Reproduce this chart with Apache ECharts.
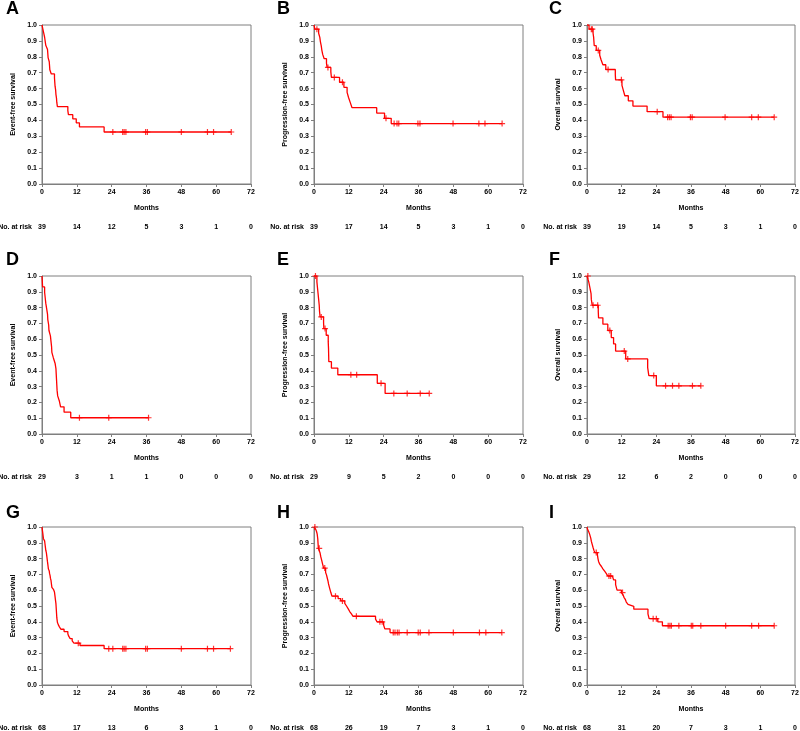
<!DOCTYPE html>
<html>
<head>
<meta charset="utf-8">
<script src="https://cdn.jsdelivr.net/npm/echarts@6/dist/echarts.min.js"></script>
<style>html,body{margin:0;padding:0;background:#fff;}#chart{width:800px;height:731px;}</style>
</head>
<body>
<div id="chart"></div>
<script>
// ---------- data ----------
const monthTicks = [0, 12, 24, 36, 48, 60, 72];
const panelLetters = ['A', 'B', 'C', 'D', 'E', 'F', 'G', 'H', 'I'];
const yTitles = ['Event-free survival', 'Progression-free survival', 'Overall survival',
                 'Event-free survival', 'Progression-free survival', 'Overall survival',
                 'Event-free survival', 'Progression-free survival', 'Overall survival'];
const riskLabel = 'No. at risk';

const aTimes = [0.3,0.6,0.9,1.1,1.3,1.9,2.0,2.1,2.5,2.6,2.7,3.2,4.3,4.4,4.5,4.7,4.8,5.0,5.1,5.3,8.9,9.1,10.6,11.8,12.9,21.4];
const aSurv  = [0.974,0.949,0.923,0.897,0.872,0.846,0.821,0.795,0.769,0.744,0.718,0.692,0.667,0.641,0.615,0.590,0.564,0.538,0.513,0.487,0.462,0.436,0.410,0.385,0.359,0.327];
const aCensor = [24.4,27.8,28.3,28.9,35.7,36.3,48.0,57.0,59.1,65.2];
const aRisk = [39,14,12,5,3,1,0];

const bTimes = [0.3,1.6,2.0,2.2,2.5,2.7,3.0,3.5,4.3,4.5,5.8,6.0,8.8,10.3,11.4,11.9,12.5,13.1,21.6,24.3,26.6];
const bSurv  = [0.974,0.948,0.922,0.896,0.869,0.842,0.815,0.788,0.760,0.733,0.705,0.670,0.640,0.608,0.576,0.544,0.512,0.480,0.446,0.413,0.380];
const bCensor = [1.0,4.8,7.0,9.8,24.8,27.6,28.6,29.2,35.8,36.5,47.9,56.8,58.9,64.8];
const bRisk = [39,17,14,5,3,1,0];

const cTimes = [0.7,2.1,2.3,2.4,2.5,3.2,4.4,4.9,5.5,6.5,9.8,9.9,12.1,12.6,13.1,14.3,15.9,20.8,26.3];
const cSurv  = [0.974,0.948,0.922,0.896,0.870,0.840,0.810,0.780,0.750,0.720,0.688,0.655,0.620,0.587,0.555,0.523,0.490,0.455,0.420];
const cCensor = [1.5,1.85,3.9,7.3,11.9,24.3,27.9,28.5,29.1,35.8,36.4,47.8,57.0,59.3,64.8];
const cRisk = [39,19,14,5,3,1,0];

const dTimes = [0.1,0.2,0.9,1.1,1.3,1.6,1.9,2.0,2.3,2.4,2.9,3.1,3.3,3.4,3.9,4.5,4.8,4.9,5.0,5.1,5.2,5.4,6.0,6.4,7.6,9.9];
const dSurv  = [0.966,0.931,0.897,0.862,0.828,0.793,0.759,0.724,0.690,0.655,0.621,0.586,0.552,0.517,0.483,0.448,0.414,0.379,0.345,0.310,0.276,0.241,0.207,0.172,0.138,0.103];
const dCensor = [12.9,23.0,36.7];
const dRisk = [29,3,1,1,0,0,0];

const eTimes = [1.0,1.2,1.4,1.6,1.8,1.9,2.1,3.3,3.4,4.2,4.9,5.0,5.05,5.1,6.0,8.2,21.8,24.5];
const eSurv  = [0.963,0.926,0.889,0.852,0.815,0.778,0.741,0.704,0.667,0.625,0.583,0.542,0.500,0.458,0.417,0.375,0.321,0.257];
const eCensor = [0.5,2.5,3.8,12.7,14.7,23.1,27.5,32.1,36.6,39.7];
const eRisk = [29,9,5,2,0,0,0];

const fTimes = [0.6,1.0,1.4,1.5,1.8,3.9,4.0,5.5,7.2,8.4,9.2,9.9,13.4,21.0,21.4,24.0];
const fSurv  = [0.963,0.926,0.889,0.852,0.815,0.775,0.735,0.695,0.655,0.610,0.570,0.525,0.475,0.420,0.370,0.305];
const fCensor = [0.3,2.1,3.7,7.9,12.9,14.1,23.1,27.2,29.6,31.8,36.5,39.4];
const fRisk = [29,12,6,2,0,0,0];

const gTimes = [0.1,0.2,0.3,0.4,0.5,0.9,1.0,1.1,1.2,1.3,1.5,1.6,1.7,1.8,1.9,2.0,2.1,2.2,2.5,2.6,2.8,2.9,3.1,3.2,3.3,3.4,4.0,4.3,4.4,4.5,4.6,4.7,4.8,4.85,4.9,4.95,5.0,5.05,5.1,5.2,5.3,5.6,6.0,6.5,7.6,8.9,9.2,9.7,10.4,11.0,13.1,21.4];
const gSurv  = [0.985,0.971,0.956,0.941,0.926,0.912,0.897,0.882,0.868,0.853,0.838,0.824,0.809,0.794,0.779,0.765,0.750,0.735,0.721,0.706,0.691,0.676,0.662,0.647,0.632,0.618,0.603,0.588,0.574,0.559,0.544,0.529,0.515,0.500,0.485,0.471,0.456,0.441,0.426,0.412,0.397,0.382,0.368,0.353,0.338,0.324,0.309,0.294,0.279,0.265,0.250,0.230];
const gCensor = [12.5,23.0,24.4,27.8,28.3,28.9,35.7,36.3,48.0,57.0,59.1,64.9];
const gRisk = [68,17,13,6,3,1,0];

const hTimes = [0.6,0.9,1.1,1.2,1.3,1.4,1.5,2.1,2.3,2.5,2.7,2.9,3.1,3.3,4.0,4.3,4.5,4.8,5.0,5.4,5.8,6.2,8.3,9.2,10.6,11.2,11.8,12.3,12.9,13.4,21.2,21.7,24.0,24.4,26.2];
const hSurv  = [0.985,0.970,0.955,0.940,0.925,0.895,0.865,0.835,0.815,0.800,0.785,0.770,0.755,0.740,0.712,0.697,0.682,0.660,0.640,0.612,0.585,0.562,0.547,0.532,0.517,0.500,0.482,0.465,0.450,0.435,0.417,0.400,0.378,0.355,0.332];
const hCensor = [0.3,1.8,3.7,7.4,9.8,14.6,22.7,23.5,27.3,27.9,28.7,29.3,32.1,35.9,36.6,39.6,48.0,57.0,59.2,64.7];
const hRisk = [68,26,19,7,3,1,0];

const iTimes = [0.2,0.6,0.9,1.3,1.5,1.8,2.1,2.4,2.7,3.6,3.8,4.0,4.4,5.0,5.5,6.1,6.7,7.2,8.8,9.2,9.9,10.4,11.9,12.5,12.8,13.3,13.6,14.2,14.8,16.2,21.1,21.5,24.5,26.1];
const iSurv  = [0.985,0.970,0.955,0.930,0.910,0.890,0.870,0.852,0.838,0.823,0.800,0.782,0.765,0.750,0.735,0.720,0.705,0.690,0.678,0.665,0.635,0.600,0.585,0.570,0.555,0.540,0.525,0.510,0.498,0.480,0.450,0.420,0.400,0.375];
const iCensor = [3.2,7.6,8.2,12.3,22.9,24.0,28.1,28.7,29.2,31.8,36.1,36.6,39.4,48.0,57.0,59.4,64.8];
const iRisk = [68,31,20,7,3,1,0];

const allTimes = [aTimes,bTimes,cTimes,dTimes,eTimes,fTimes,gTimes,hTimes,iTimes];
const allSurv = [aSurv,bSurv,cSurv,dSurv,eSurv,fSurv,gSurv,hSurv,iSurv];
const allCensor = [aCensor,bCensor,cCensor,dCensor,eCensor,fCensor,gCensor,hCensor,iCensor];
const allRisk = [aRisk,bRisk,cRisk,dRisk,eRisk,fRisk,gRisk,hRisk,iRisk];

// ---------- layout ----------
const colLeft = [42, 314, 587];
const colWidth = [209, 209, 208];
const rowTop = [25, 276, 527];
const rowHeight = [159, 158, 158];
const letterLeft = [6, 277, 549];
const letterTop = [0, 251, 504];
const riskOffset = 43;
const FONT = 'Liberation Sans';
const RED = '#ff0000';
const GRAY = '#7f7f7f';

function survAt(times, surv, t) {
  let s = 1;
  for (let k = 0; k < times.length; k++) { if (times[k] <= t) s = surv[k]; }
  return s;
}

const grids = [], xAxes = [], riskAxes = [], yAxes = [], series = [], graphics = [];
for (let i = 0; i < 9; i++) {
  const r = Math.floor(i / 3), c = i % 3;
  const times = allTimes[i], surv = allSurv[i], cens = allCensor[i], risk = allRisk[i];
  grids.push({left: colLeft[c], top: rowTop[r], width: colWidth[c], height: rowHeight[r],
    show: true, borderColor: GRAY, borderWidth: 1, backgroundColor: 'transparent',
    containLabel: false, outerBoundsMode: 'none'});
  const txt = {fontFamily: FONT, fontSize: 7, fontWeight: 'bold', color: '#000'};
  xAxes.push({gridIndex: i, type: 'value', min: 0, max: 72, interval: 12,
    axisLine: {show: true, onZero: false, lineStyle: {color: GRAY, width: 1}},
    axisTick: {show: true, length: 3, lineStyle: {color: GRAY}},
    axisLabel: Object.assign({margin: 5, formatter: v => String(v)}, txt),
    splitLine: {show: false},
    name: 'Months', nameLocation: 'middle', nameGap: 21, nameTextStyle: txt});
  riskAxes.push({gridIndex: i, type: 'value', min: 0, max: 72, interval: 12, position: 'bottom', offset: riskOffset,
    axisLine: {show: false}, axisTick: {show: false}, splitLine: {show: false},
    axisLabel: Object.assign({margin: 0, verticalAlign: 'middle',
      formatter: v => String(risk[monthTicks.indexOf(Math.round(v))])}, txt)});
  yAxes.push({gridIndex: i, type: 'value', min: 0, max: 1, interval: 0.1,
    axisLine: {show: true, lineStyle: {color: GRAY, width: 1}},
    axisTick: {show: true, length: 3, lineStyle: {color: GRAY}},
    axisLabel: Object.assign({margin: 5, formatter: v => v.toFixed(1)}, txt),
    splitLine: {show: false},
    name: yTitles[i], nameLocation: 'middle', nameGap: 25, nameRotate: 90, nameTextStyle: txt});
  const lastT = Math.max(times[times.length - 1], cens.length ? cens[cens.length - 1] : 0);
  const lineData = [[0, 1]].concat(times.map((t, k) => [t, surv[k]]));
  lineData.push([lastT, survAt(times, surv, lastT)]);
  series.push({type: 'line', xAxisIndex: i, yAxisIndex: i, step: 'end', showSymbol: false, symbol: 'none',
    lineStyle: {color: RED, width: 1.3}, data: lineData, silent: true, z: 3});
  series.push({type: 'scatter', xAxisIndex: i, yAxisIndex: i,
    symbol: 'path://M4,0H6V4H10V6H6V10H4V6H0V4H4Z', symbolSize: 6,
    itemStyle: {color: RED}, data: cens.map(t => [t, survAt(times, surv, t)]), silent: true, z: 4});
  graphics.push({type: 'text', left: letterLeft[c], top: letterTop[r],
    style: {text: panelLetters[i], font: 'bold 18px ' + FONT, fill: '#000'}});
  graphics.push({type: 'text', x: colLeft[c] - 10, y: rowTop[r] + rowHeight[r] + riskOffset,
    style: {text: riskLabel, font: 'bold 7px ' + FONT, fill: '#000', align: 'right', verticalAlign: 'middle'}});
}
const option = {
  animation: false,
  backgroundColor: '#fff',
  grid: grids,
  xAxis: xAxes.concat(riskAxes),
  yAxis: yAxes,
  series: series,
  graphic: graphics
};
const chart = echarts.init(document.getElementById('chart'), null, {renderer: 'canvas'});
chart.setOption(option);
</script>
</body>
</html>
